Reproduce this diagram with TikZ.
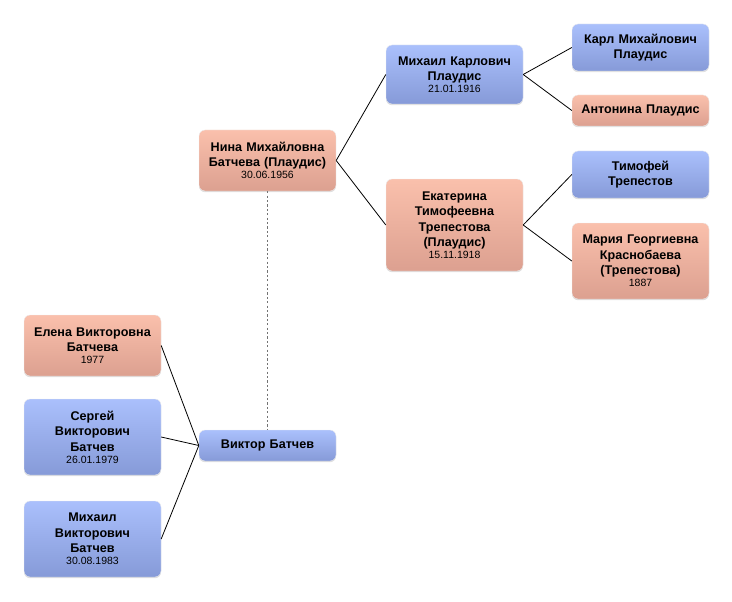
\documentclass[tikz,border=0pt]{standalone}
\usepackage{fontspec}
\setmainfont{Liberation Sans}
\usetikzlibrary{shadows}
\definecolor{bluetop}{RGB}{170,192,252}
\definecolor{bluebot}{RGB}{134,154,216}
\definecolor{salmtop}{RGB}{250,192,172}
\definecolor{salmbot}{RGB}{220,160,144}
\tikzset{
  person/.style={rounded corners=6pt, minimum width=137pt, text width=133pt,
    align=center, inner sep=2pt, draw=white!85!gray, line width=0.4pt,
    font=\bfseries\fontsize{12.6}{15.5}\selectfont,
    drop shadow={opacity=0.25, shadow xshift=0pt, shadow yshift=-1.2pt}},
  male/.style={person, top color=bluetop, bottom color=bluebot},
  female/.style={person, top color=salmtop, bottom color=salmbot},
  link/.style={draw=black, line width=0.8pt},
  spouse/.style={draw=black!55, line width=1.8pt, dash pattern=on 2.2pt off 2.2pt}
}
\newcommand{\dt}[1]{{\mdseries\fontsize{10.5}{12}\selectfont #1}}
\begin{document}
\begin{tikzpicture}[x=1pt,y=-1pt]
\useasboundingbox (0,0) rectangle (732,602);
% grandparents' generation
\node[male, minimum height=59pt] (mk) at (454.5,74.5) {Михаил Карлович\\Плаудис\\[-3.5pt]\dt{21.01.1916}};
\node[female, minimum height=92pt] (ek) at (454.5,225) {Екатерина\\Тимофеевна\\Трепестова\\(Плаудис)\\[-3.5pt]\dt{15.11.1918}};
% great-grandparents
\node[male, minimum height=47pt] (karl) at (640.5,47.5) {Карл Михайлович\\Плаудис};
\node[female, minimum height=31pt] (ant) at (640.5,110.5) {Антонина Плаудис};
\node[male, minimum height=47pt] (tim) at (640.5,174.5) {Тимофей\\Трепестов};
\node[female, minimum height=76pt] (mar) at (640.5,261) {Мария Георгиевна\\Краснобаева\\(Трепестова)\\[-3.5pt]\dt{1887}};
% parents
\node[female, minimum height=61pt] (nina) at (267.5,160.5) {Нина Михайловна\\Батчева (Плаудис)\\[-3.5pt]\dt{30.06.1956}};
\node[male, minimum height=31pt] (vik) at (267.5,445.5) {Виктор Батчев};
% children
\node[female, minimum height=61pt] (ele) at (92.5,345.5) {Елена Викторовна\\Батчева\\[-3.5pt]\dt{1977}};
\node[male, minimum height=76pt] (ser) at (92.5,437) {Сергей\\Викторович\\Батчев\\[-3.5pt]\dt{26.01.1979}};
\node[male, minimum height=76pt] (mih) at (92.5,539) {Михаил\\Викторович\\Батчев\\[-3.5pt]\dt{30.08.1983}};
% connectors
\draw[link] (nina.east) -- (mk.west);
\draw[link] (nina.east) -- (ek.west);
\draw[link] (mk.east) -- (karl.west);
\draw[link] (mk.east) -- (ant.west);
\draw[link] (ek.east) -- (tim.west);
\draw[link] (ek.east) -- (mar.west);
\draw[link] (vik.west) -- (ele.east);
\draw[link] (vik.west) -- (ser.east);
\draw[link] (vik.west) -- (mih.east);
\draw[spouse] (nina.south) -- (vik.north);
\end{tikzpicture}
\end{document}
